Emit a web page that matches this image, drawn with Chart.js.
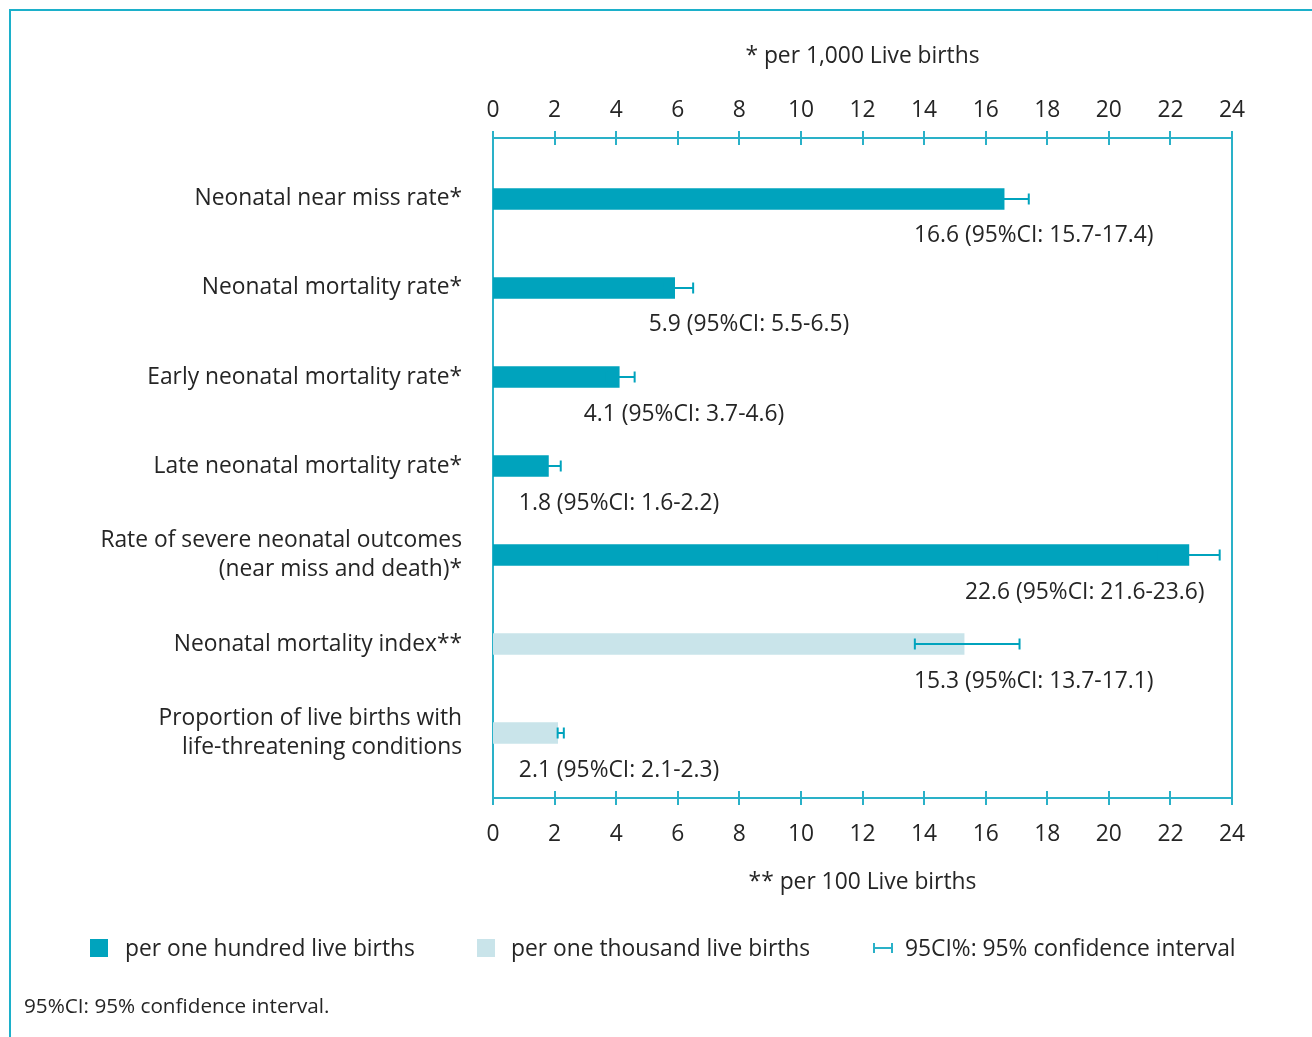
<!DOCTYPE html>
<html><head><meta charset="utf-8">
<script src="https://cdn.jsdelivr.net/npm/chart.js@4/dist/chart.umd.min.js"></script>
<style>
html,body{margin:0;padding:0;background:#fff;}
#wrap{position:relative;width:1312px;height:1037px;overflow:hidden;}
#frame{position:absolute;left:9px;top:9px;right:0;bottom:0;border-top:2px solid #1cb0ca;border-left:2px solid #1cb0ca;pointer-events:none;}
canvas{display:block}
</style></head><body>
<div id="wrap"><canvas id="c" width="1312" height="1037"></canvas><div id="frame"></div></div>
<script>
// ---- data ----
const categories = [
  ["Neonatal near miss rate*"],
  ["Neonatal mortality rate*"],
  ["Early neonatal mortality rate*"],
  ["Late neonatal mortality rate*"],
  ["Rate of severe neonatal outcomes", "(near miss and death)*"],
  ["Neonatal mortality index**"],
  ["Proportion of live births with", "life-threatening conditions"]
];
const darkSeriesValues  = [16.6, 5.9, 4.1, 1.8, 22.6, null, null];
const lightSeriesValues = [null, null, null, null, null, 15.3, 2.1];
const ciLow  = [15.7, 5.5, 3.7, 1.6, 21.6, 13.7, 2.1];
const ciHigh = [17.4, 6.5, 4.6, 2.2, 23.6, 17.1, 2.3];
const valueLabels = [
  "16.6 (95%CI: 15.7-17.4)",
  "5.9 (95%CI: 5.5-6.5)",
  "4.1 (95%CI: 3.7-4.6)",
  "1.8 (95%CI: 1.6-2.2)",
  "22.6 (95%CI: 21.6-23.6)",
  "15.3 (95%CI: 13.7-17.1)",
  "2.1 (95%CI: 2.1-2.3)"
];
const valueLabelStart = [13.67, 5.06, 2.95, 0.84, 15.33, 13.67, 0.84];
const xTickValues = [0, 2, 4, 6, 8, 10, 12, 14, 16, 18, 20, 22, 24];
const seriesNames = ["per one hundred live births", "per one thousand live births"];
const ciLegendText = "95CI%: 95% confidence interval";
const topAxisTitle = "* per 1,000 Live births";
const bottomAxisTitle = "** per 100 Live births";
const footnote = "95%CI: 95% confidence interval.";

// ---- styles ----
const DARK = "#00a3bd";
const LIGHT = "#c9e4ea";
const AXIS = "#2ab1c8";
const TEXT = "#252525";
const FAMILY = "'Open Sans', 'Noto Sans', sans-serif";
const WEIGHT = 400;
const FS = 22.8;
const font = (size) => ({family: FAMILY, size: size, weight: WEIGHT});

const toPoints = (arr) => arr.map((v, i) => v == null ? null : {x: v, y: i}).filter(p => p);

const decor = {
  id: 'decor',
  afterDatasetsDraw(chart) {
    const ctx = chart.ctx;
    const xs = chart.scales.x, ys = chart.scales.y, xb = chart.scales.x2;
    const a = chart.chartArea;
    ctx.save();
    ctx.strokeStyle = AXIS; ctx.lineWidth = 2;
    ctx.beginPath(); ctx.moveTo(a.right, a.top - 7); ctx.lineTo(a.right, a.bottom + 7); ctx.stroke();
    xTickValues.forEach(v => {
      const px = Math.round(xs.getPixelForValue(v));
      ctx.beginPath(); ctx.moveTo(px, a.top - 7); ctx.lineTo(px, a.top + 7); ctx.stroke();
      const pb = Math.round(xb.getPixelForValue(v));
      ctx.beginPath(); ctx.moveTo(pb, a.bottom - 7); ctx.lineTo(pb, a.bottom + 7); ctx.stroke();
    });
    ctx.strokeStyle = DARK; ctx.lineWidth = 2;
    categories.forEach((c, i) => {
      const y = ys.getPixelForValue(i);
      const x1 = xs.getPixelForValue(ciLow[i]);
      const x2 = xs.getPixelForValue(ciHigh[i]);
      ctx.beginPath();
      ctx.moveTo(x1, y); ctx.lineTo(x2, y);
      ctx.moveTo(x1, y - 5.5); ctx.lineTo(x1, y + 5.5);
      ctx.moveTo(x2, y - 5.5); ctx.lineTo(x2, y + 5.5);
      ctx.stroke();
    });
    ctx.fillStyle = TEXT;
    ctx.font = WEIGHT + " " + FS + "px " + FAMILY;
    ctx.textAlign = 'left'; ctx.textBaseline = 'middle';
    categories.forEach((c, i) => {
      const y = ys.getPixelForValue(i) + 37;
      ctx.fillText(valueLabels[i], xs.getPixelForValue(valueLabelStart[i]), y);
    });
    const ly = 948;
    ctx.fillStyle = DARK; ctx.fillRect(90, ly - 9, 18, 18);
    ctx.fillStyle = LIGHT; ctx.fillRect(477, ly - 9, 18, 18);
    ctx.strokeStyle = AXIS; ctx.lineWidth = 2;
    ctx.beginPath();
    ctx.moveTo(874, ly); ctx.lineTo(892, ly);
    ctx.moveTo(874, ly - 5); ctx.lineTo(874, ly + 5);
    ctx.moveTo(892, ly - 5); ctx.lineTo(892, ly + 5);
    ctx.stroke();
    ctx.fillStyle = TEXT;
    ctx.fillText(seriesNames[0], 125, ly + 2);
    ctx.fillText(seriesNames[1], 511, ly + 2);
    ctx.fillText(ciLegendText, 905, ly + 2);
    ctx.font = WEIGHT + " 20.7px " + FAMILY;
    ctx.fillText(footnote, 24, 1007);
    ctx.restore();
  }
};

function build() {
  new Chart(document.getElementById('c'), {
    type: 'bar',
    data: {
      datasets: [
        {label: seriesNames[0], data: toPoints(darkSeriesValues), backgroundColor: DARK, barThickness: 21, grouped: false},
        {label: seriesNames[1], data: toPoints(lightSeriesValues), backgroundColor: LIGHT, barThickness: 21, grouped: false}
      ]
    },
    options: {
      indexAxis: 'y',
      responsive: false,
      animation: false,
      devicePixelRatio: 1,
      layout: {padding: {left: 0, right: 80, top: 0, bottom: 0}},
      plugins: {legend: {display: false}, tooltip: {enabled: false}},
      scales: {
        x: {
          type: 'linear', position: 'top', min: 0, max: 24,
          afterBuildTicks: s => { s.ticks = xTickValues.map(v => ({value: v})); },
          grid: {display: false, drawTicks: false},
          border: {display: true, color: AXIS, width: 2},
          ticks: {font: font(FS), color: TEXT, padding: 14},
          title: {display: true, text: topAxisTitle, font: font(FS), color: TEXT, padding: {top: 43.3, bottom: 0}},
          afterFit: s => { s.height = 138; }
        },
        x2: {
          type: 'linear', position: 'bottom', min: 0, max: 24,
          afterBuildTicks: s => { s.ticks = xTickValues.map(v => ({value: v})); },
          grid: {display: false, drawTicks: false},
          border: {display: true, color: AXIS, width: 2},
          ticks: {font: font(FS), color: TEXT, padding: 22.5},
          title: {display: true, text: bottomAxisTitle, font: font(FS), color: TEXT, padding: {top: 0, bottom: 141.3}},
          afterFit: s => { s.height = 239; }
        },
        y: {
          type: 'linear', reverse: true, offset: false, min: -0.6854, max: 6.730,
          afterBuildTicks: s => { s.ticks = categories.map((c, i) => ({value: i})); },
          grid: {display: false, drawTicks: false, offset: false},
          border: {display: true, color: AXIS, width: 2},
          ticks: {
            font: Object.assign(font(FS), {lineHeight: 1.23}), color: TEXT, padding: 31, crossAlign: 'near',
            callback: (v) => categories[Math.round(v)]
          },
          afterFit: s => { s.width = 493; }
        }
      }
    },
    plugins: [decor]
  });
}
if (document.fonts && document.fonts.load) {
  Promise.all([document.fonts.load("22px 'Open Sans'")]).then(build, build);
} else build();
</script>
</body></html>
